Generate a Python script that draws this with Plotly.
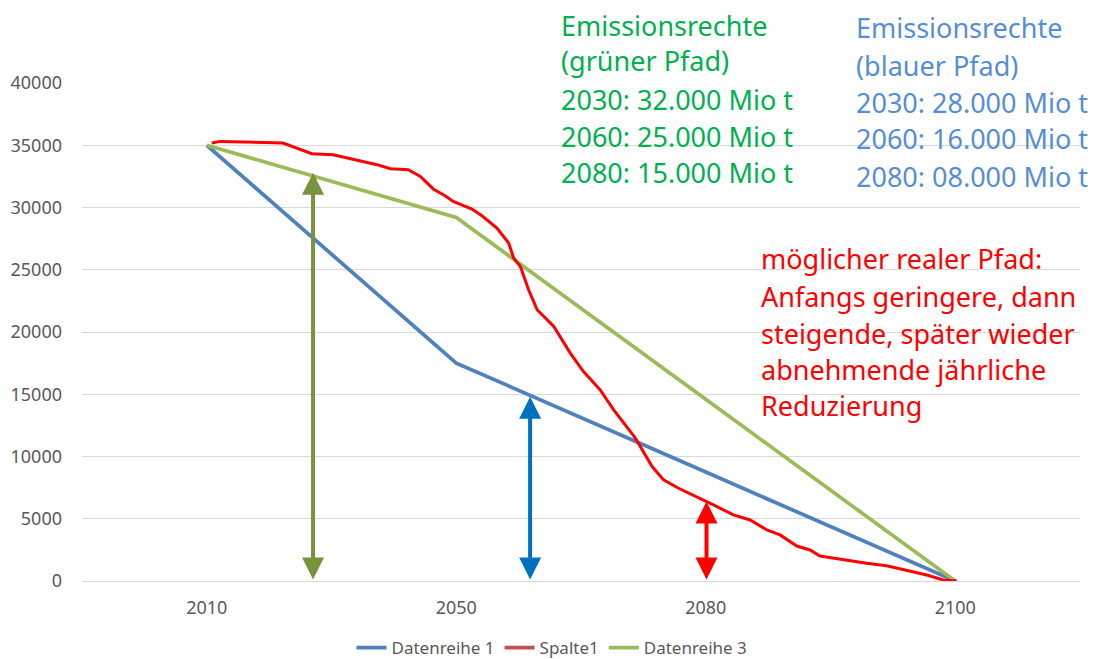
import plotly.graph_objects as go

# ---- data ----
categories = ["2010", "2050", "2080", "2100"]
datenreihe1 = [35000, 17500, 8750, 0]
spalte1 = [None, None, None, None]
datenreihe3 = [35000, 29200, 14600, 0]

# hand-drawn "possible real path" (category-index position, value)
real_x = [0.020, 0.053, 0.306, 0.361, 0.421, 0.507, 0.562, 0.627, 0.682, 0.736,
          0.808, 0.856, 0.908, 0.955, 0.988, 1.063, 1.103, 1.163, 1.210, 1.230,
          1.257, 1.290, 1.324, 1.391, 1.457, 1.510, 1.577, 1.631, 1.718, 1.785,
          1.831, 1.891, 1.978, 2.031, 2.111, 2.178, 2.245, 2.298, 2.365, 2.418,
          2.458, 2.538, 2.645, 2.725, 2.805, 2.886, 2.952, 3.006]
real_y = [35180, 35310, 35180, 34780, 34320, 34240, 33980, 33650, 33440, 33120,
          33040, 32500, 31490, 30950, 30490, 29880, 29340, 28350, 27150, 25940,
          25270, 23390, 21790, 20440, 18300, 16820, 15350, 13750, 11470, 9190,
          8120, 7450, 6650, 6110, 5310, 4900, 4100, 3700, 2810, 2490,
          2010, 1740, 1420, 1230, 830, 480, 80, 0]

# double-headed arrows: (category position, top value, colour)
arrow_x = [0.426, 1.296, 2.003]
arrow_top = [32800, 14790, 6380]
arrow_colors = ["#77933C", "#0070C0", "#FF0000"]

green_text = ["Emissionsrechte", "(grüner Pfad)", "2030: 32.000 Mio t",
              "2060: 25.000 Mio t", "2080: 15.000 Mio t"]
blue_text = ["Emissionsrechte", "(blauer Pfad)", "2030: 28.000 Mio t",
             "2060: 16.000 Mio t", "2080: 08.000 Mio t"]
red_text = ["möglicher realer Pfad:", "Anfangs geringere, dann",
            "steigende, später wieder", "abnehmende jährliche", "Reduzierung"]

# page offset of the plot div (body margin)
OFF = 8
W, H = 1104 - OFF, 659 - OFF
PX0, PX1, PY0, PY1 = 82, 1080, 83, 581   # plot area in screen pixels
ML, MT = PX0 - OFF, PY0 - OFF
PW, PH = PX1 - PX0, PY1 - PY0
MR, MB = W - ML - PW, H - MT - PH


def px2paper(px, py):
    return (px - PX0) / PW, (PY1 - py) / PH


FONT = "Noto Sans"

fig = go.Figure()
fig.add_trace(go.Scatter(x=categories, y=datenreihe1, mode="lines", name="Datenreihe 1",
                         line=dict(color="#4F81BD", width=3.7)))
fig.add_trace(go.Scatter(x=categories, y=spalte1, mode="lines", name="Spalte1",
                         line=dict(color="#C0504D", width=3.7)))
fig.add_trace(go.Scatter(x=categories, y=datenreihe3, mode="lines", name="Datenreihe 3",
                         line=dict(color="#9BBB59", width=3.7)))
fig.add_trace(go.Scatter(x=real_x, y=real_y, mode="lines", xaxis="x2", showlegend=False,
                         line=dict(color="#FF0000", width=3), hoverinfo="skip"))

annotations = []
for ax_, top, col in zip(arrow_x, arrow_top, arrow_colors):
    annotations.append(dict(x=ax_, y=top, ax=ax_, ay=0, xref="x2", yref="y",
                            axref="x2", ayref="y", text="", showarrow=True,
                            arrowhead=2, startarrowhead=2, arrowside="end+start",
                            arrowsize=1.1, startarrowsize=1.1, arrowwidth=4,
                            arrowcolor=col, standoff=0, startstandoff=0))

def add_lines(lines, px, pys, color):
    for t, py in zip(lines, pys):
        xp, yp = px2paper(px, py)
        annotations.append(dict(x=xp, y=yp, xref="paper", yref="paper", text=t,
                                showarrow=False, xanchor="left", yanchor="middle",
                                borderpad=0,
                                font=dict(family=FONT, size=27, color=color)))

add_lines(green_text, 560, [25, 61, 100, 136, 172], "#00B050")
add_lines(blue_text, 855, [28, 65, 102, 139, 176], "#558ED5")
add_lines(red_text, 760, [258, 296, 333, 369, 405], "#FF0000")

fig.update_layout(
    width=W, height=H, autosize=False,
    margin=dict(l=ML, r=MR, t=MT, b=MB, autoexpand=False),
    paper_bgcolor="white", plot_bgcolor="white",
    font=dict(family=FONT, color="#595959", size=15),
    xaxis=dict(type="category", range=[-0.5, 3.5], showgrid=False, zeroline=False,
               showline=False, ticks="", tickfont=dict(size=18, color="#595959"),
               ticklabelstandoff=14, domain=[0, 1]),
    xaxis2=dict(overlaying="x", range=[-0.5, 3.5], visible=False),
    yaxis=dict(range=[0, 40000], dtick=5000, showgrid=True, gridcolor="#D9D9D9",
               gridwidth=1, zeroline=True, zerolinecolor="#D9D9D9", zerolinewidth=1,
               showline=False, ticks="", tickformat="d",
               tickfont=dict(size=18, color="#595959"), ticklabelstandoff=19),
    legend=dict(orientation="h", x=px2paper(552, 0)[0], xanchor="center",
                y=px2paper(0, 648)[1], yanchor="middle",
                font=dict(size=17, color="#595959")),
    annotations=annotations,
    showlegend=True,
)

fig.write_html("out.html")
